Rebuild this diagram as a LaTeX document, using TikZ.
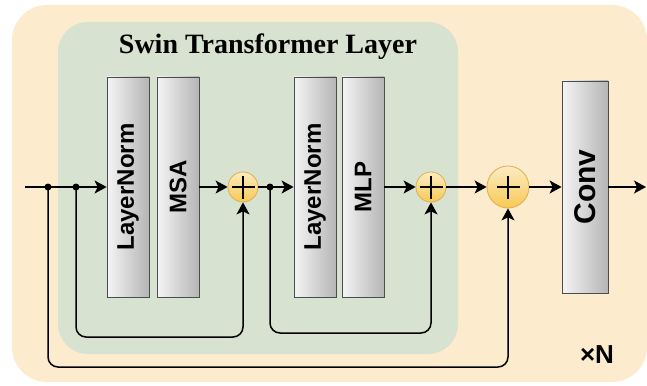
\documentclass[tikz,border=0pt]{standalone}
\usepackage{fontspec}
\setmainfont{Liberation Serif}
\setsansfont{Liberation Sans}
\usetikzlibrary{arrows.meta}
\definecolor{outerbg}{HTML}{FDEBCD}
\definecolor{layerbg}{HTML}{D7E2D0}
\definecolor{addfill}{HTML}{F7C955}
\definecolor{addedge}{HTML}{E0AE4A}
\tikzset{
  block/.style={draw=gray!60!black, line width=0.8pt, left color=gray!8, right color=gray!58,
    minimum width=42pt, minimum height=220pt, inner sep=0pt,
    font=\sffamily\bfseries\fontsize{24}{24}\selectfont},
  addop/.style={circle, draw=addedge, line width=0.8pt, top color=addfill!35!white, bottom color=addfill,
    minimum size=30pt, inner sep=0pt,
    path picture={
      \draw[black, line width=1.4pt] ([xshift=-11.5pt]path picture bounding box.center) -- ([xshift=11.5pt]path picture bounding box.center);
      \draw[black, line width=1.4pt] ([yshift=-11.5pt]path picture bounding box.center) -- ([yshift=11.5pt]path picture bounding box.center);}},
  flow/.style={line width=1.5pt, -{Stealth[length=12pt,width=13pt,inset=3pt]}},
  skip/.style={flow, rounded corners=10pt}
}
\begin{document}
\begin{tikzpicture}[x=1pt,y=-1pt]
  \useasboundingbox (0,0) rectangle (647,385);
  \fill[outerbg, rounded corners=35pt] (12,5) rectangle (647,382);
  \fill[layerbg, rounded corners=30pt] (58,22) rectangle (458,354);
  \node[font=\bfseries\fontsize{28}{28}\selectfont] (title) at (268,47) {Swin Transformer Layer};

  \node[block] (ln1) at (128,187) {\rotatebox{90}{LayerNorm}};
  \node[block] (msa) at (178,187) {\rotatebox{90}{MSA}};
  \node[addop] (add1) at (243,187) {};
  \node[block] (ln2) at (315,187) {\rotatebox{90}{LayerNorm}};
  \node[block] (mlp) at (363,187) {\rotatebox{90}{MLP}};
  \node[addop] (add2) at (431,187) {};
  \node[addop, minimum size=42pt] (add3) at (508,187) {};
  \node[block, minimum width=46pt, minimum height=212pt, font=\sffamily\bfseries\fontsize{30}{30}\selectfont] (conv) at (585,187) {\rotatebox{90}{Conv}};
  \node[font=\sffamily\bfseries\fontsize{26}{26}\selectfont] (rep) at (597,355) {×N};

  \coordinate (in) at (25,187);
  \coordinate (out) at (646,187);
  \coordinate (d1) at (48,187);
  \coordinate (d2) at (76,187);
  \coordinate (d3) at (270,187);

  \draw[flow] (in) -- (ln1);
  \draw[flow] (msa) -- (add1);
  \draw[flow] (add1) -- (ln2);
  \draw[flow] (mlp) -- (add2);
  \draw[flow] (add2) -- (add3);
  \draw[flow] (add3) -- (conv);
  \draw[flow] (conv) -- (out);
  \draw[skip] (d2) -- ++(0,150) -| (add1);
  \draw[skip] (d3) -- ++(0,146) -| (add2);
  \draw[skip] (d1) -- ++(0,180) -| (add3);
  \foreach \d in {d1,d2,d3} \fill (\d) circle (3.5pt);
\end{tikzpicture}
\end{document}
